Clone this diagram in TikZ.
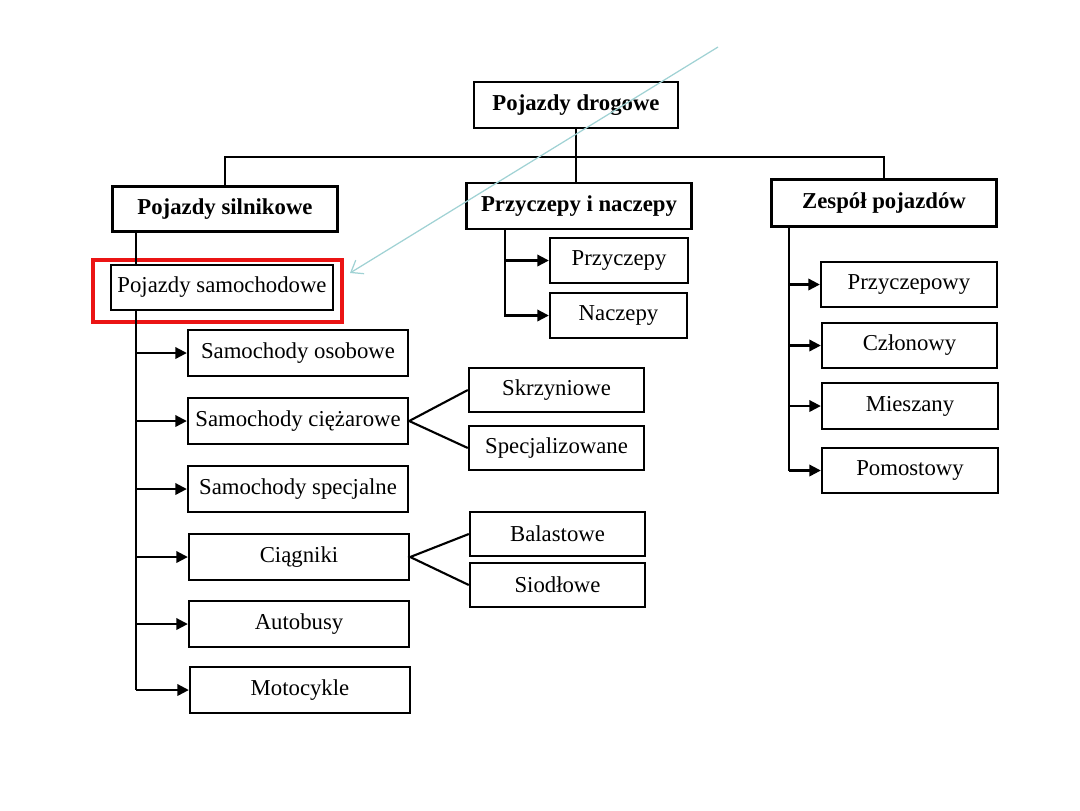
\documentclass[tikz,border=0pt]{standalone}
\usepackage{fontspec}
\setmainfont{Liberation Serif}
\usetikzlibrary{arrows.meta}
\newcommand\pxu{0.567pt}
\definecolor{hlred}{RGB}{235,20,20}
\definecolor{pointer}{RGB}{160,210,212}
\tikzset{
  box/.style={draw=black, line width=1.35pt, fill=white, inner sep=0pt,
    font=\fontsize{12.9}{14}\selectfont},
  topbox/.style={box, font=\fontsize{12.9}{14}\selectfont\bfseries},
  link/.style={draw=black, line width=1.2pt},
  arr/.style={link, -{Triangle[length=6.5pt,width=6.5pt]}},
  pointerarrow/.style={draw=pointer, line width=0.7pt, -{Straight Barb[length=6pt,width=9pt]}},
  highlight/.style={draw=hlred, line width=2.4pt},
}
\begin{document}
\begin{tikzpicture}[x=0.567pt,y=-0.567pt]
\useasboundingbox (0,0) rectangle (1080,810);
% top level
\node[topbox, minimum width={204*\pxu}, minimum height={46*\pxu}] (root) at (576,105) {Pojazdy drogowe};
\node[topbox, minimum width={225*\pxu}, minimum height={45*\pxu}] (ps) at (225,209) {Pojazdy silnikowe};
\node[topbox, minimum width={225*\pxu}, minimum height={46*\pxu}] (pn) at (579,206) {Przyczepy i naczepy};
\node[topbox, minimum width={225*\pxu}, minimum height={47*\pxu}] (zp) at (884,203) {Zespół pojazdów};
\coordinate (bus) at (576,157);
\draw[link] (root.south) -- (root.south |- pn.north);
\draw[link] (ps.north) |- (bus) -| (zp.north);
% Pojazdy samochodowe
\node[box, minimum width={222*\pxu}, minimum height={45*\pxu}] (psam) at (222,287.5) {Pojazdy samochodowe};
\coordinate (hlA) at (93,260);
\coordinate (hlB) at (342,322);
\draw[highlight] (hlA) rectangle (hlB);
% left column
\node[box, minimum width={220*\pxu}, minimum height={46*\pxu}] (so) at (298,353) {Samochody osobowe};
\node[box, minimum width={220*\pxu}, minimum height={46*\pxu}] (sc) at (298,421) {Samochody ciężarowe};
\node[box, minimum width={220*\pxu}, minimum height={46*\pxu}] (ss) at (298,489) {Samochody specjalne};
\node[box, minimum width={220*\pxu}, minimum height={46*\pxu}] (ci) at (299,557) {Ciągniki};
\node[box, minimum width={220*\pxu}, minimum height={46*\pxu}] (au) at (299,624) {Autobusy};
\node[box, minimum width={220*\pxu}, minimum height={46*\pxu}] (mo) at (300,690) {Motocykle};
\draw[link] (136,0 |- ps.south) -- (136,0 |- psam.north);
\draw[link] (136,0 |- psam.south) -- (136,0 |- mo.west);
\foreach \n in {so,sc,ss,ci,au,mo} \draw[arr] (136,0 |- \n.west) -- (\n.west);
% sub boxes
\node[box, minimum width={175*\pxu}, minimum height={44*\pxu}] (sk) at (556.5,390) {Skrzyniowe};
\node[box, minimum width={175*\pxu}, minimum height={44*\pxu}] (sp) at (556.5,448) {Specjalizowane};
\node[box, minimum width={175*\pxu}, minimum height={44*\pxu}] (ba) at (557.5,534) {Balastowe};
\node[box, minimum width={175*\pxu}, minimum height={44*\pxu}] (si) at (557.5,585) {Siodłowe};
\draw[link] (sk.west) -- (sc.east) -- (sp.west);
\draw[link] (ba.west) -- (ci.east) -- (si.west);
% przyczepy
\node[box, minimum width={138*\pxu}, minimum height={45*\pxu}] (prz) at (619,260.5) {Przyczepy};
\node[box, minimum width={137*\pxu}, minimum height={45*\pxu}] (nac) at (618.5,315.5) {Naczepy};
\draw[arr] (505,0 |- pn.south) |- (prz.west);
\draw[arr] (505,0 |- pn.south) |- (nac.west);
% zespol
\node[box, minimum width={176*\pxu}, minimum height={45*\pxu}] (zprz) at (909,284.5) {Przyczepowy};
\node[box, minimum width={175*\pxu}, minimum height={45*\pxu}] (zczl) at (909.5,345.5) {Członowy};
\node[box, minimum width={176*\pxu}, minimum height={46*\pxu}] (zmie) at (910,406) {Mieszany};
\node[box, minimum width={176*\pxu}, minimum height={45*\pxu}] (zpom) at (910,470.5) {Pomostowy};
\draw[link] (789,0 |- zp.south) -- (789,0 |- zpom.west);
\foreach \n in {zprz,zczl,zmie,zpom} \draw[arr] (789,0 |- \n.west) -- (\n.west);
% pointer
\coordinate (pstart) at (718,47);
\coordinate (pend) at (350,273);
\draw[pointerarrow] (pstart) -- (pend);
\end{tikzpicture}
\end{document}
